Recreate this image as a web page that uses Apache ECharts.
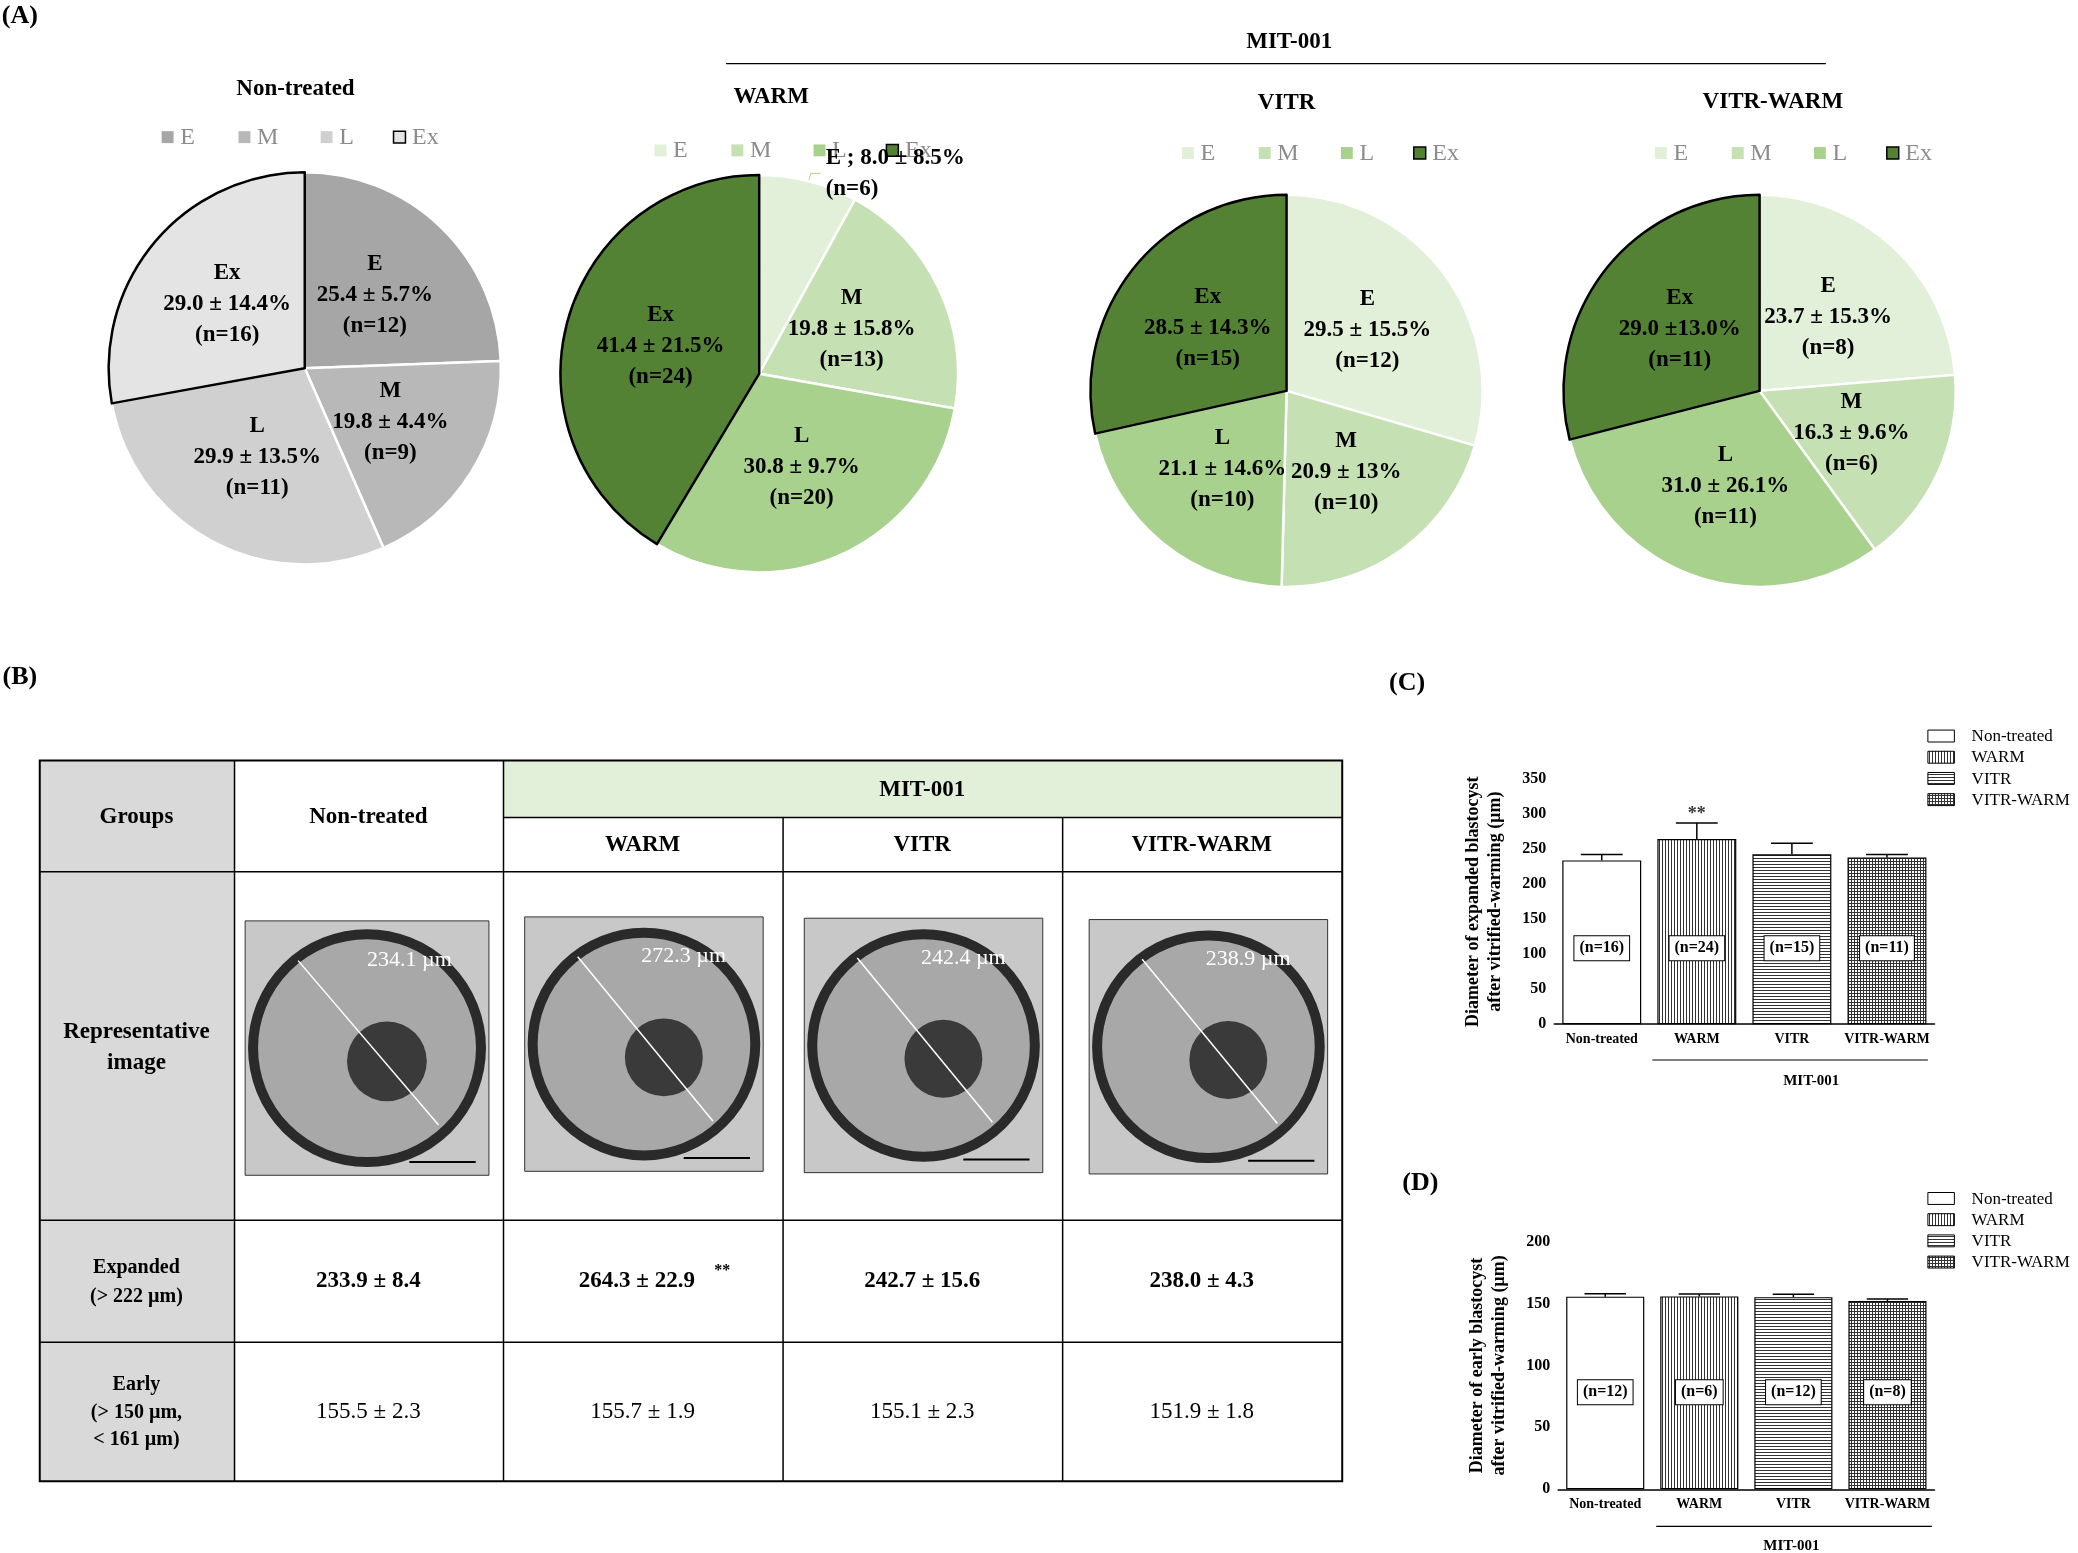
<!DOCTYPE html>
<html><head><meta charset="utf-8">
<script src="https://cdn.jsdelivr.net/npm/echarts@6/dist/echarts.min.js"></script>
<style>html,body{margin:0;background:#fff}#c{width:2078px;height:1553px}</style></head>
<body><div id="c"></div>
<script>
// ---------- data ----------
const pieCats = ['E','M','L','Ex'];
const ntMean = [25.4,19.8,29.9,29.0], ntSd = ['5.7','4.4','13.5','14.4'], ntN = [12,9,11,16];
const wMean = [8.0,19.8,30.8,41.4], wSd = ['8.5','15.8','9.7','21.5'], wN = [6,13,20,24];
const vMean = [29.5,20.9,21.1,28.5], vSd = ['15.5','13','14.6','14.3'], vN = [12,10,10,15];
const vwMean = [23.7,16.3,31.0,29.0], vwSd = ['15.3','9.6','26.1','13.0'], vwN = [8,6,11,11];
const groups = ['Non-treated','WARM','VITR','VITR-WARM'];
const expMean = [233.9,264.3,242.7,238.0], expSd = [8.4,22.9,15.6,4.3], expN = [16,24,15,11];
const earlyMean = [155.5,155.7,155.1,151.9], earlySd = [2.3,1.9,2.3,1.8], earlyN = [12,6,12,8];
const yTicksC = [0,50,100,150,200,250,300,350], yTicksD = [0,50,100,150,200];
const diamTxt = ['234.1 µm','272.3 µm','242.4 µm','238.9 µm'];

const S = 1.325, F = 'Liberation Serif';
const grayCols = ['#a6a6a6','#b8b8b8','#d0d0d0','#e4e4e4'];
const greenCols = ['#e2efd9','#c5e0b3','#a9d18e','#548235'];

function pat(kind){
  const c=document.createElement('canvas');c.width=c.height=6;const g=c.getContext('2d');
  g.fillStyle='#fff';g.fillRect(0,0,6,6);g.fillStyle='#333';
  if(kind==1){g.fillRect(0,0,1,6);g.fillRect(3,0,1,6);}
  if(kind==2){g.fillRect(0,0,6,1);g.fillRect(0,3,6,1);}
  if(kind==3){g.fillRect(0,0,1,6);g.fillRect(3,0,1,6);g.fillRect(0,0,6,1);g.fillRect(0,3,6,1);}
  return c;
}
const fills = [0,1,2,3].map(k=>k==0?'#fff':{image:pat(k),repeat:'repeat'});

function pieSeries(cx,cy,r,mean,sd,n,cols,outsideFirst,sep){
  return {type:'pie',center:[cx*S,cy*S],radius:r*S,startAngle:90,clockwise:true,animation:false,
    data:pieCats.map((c,i)=>({name:c,value:mean[i],
      itemStyle:{color:cols[i],borderColor:i==3?'#000':'#fff',borderWidth:i==3?2.5:2.5},
      label: (outsideFirst&&i==0)?{position:'outside',formatter:`E ; ${mean[i].toFixed(1)} ± ${sd[i]}%\n(n=${n[i]})`,color:'#000',fontSize:23,align:'left'}:
        {position:'inner',formatter:`${c}\n${mean[i].toFixed(1)} ${sep&&sep[i]?sep[i]:'± '}${sd[i]}%\n(n=${n[i]})`},
      labelLine: (outsideFirst&&i==0)?{show:true,length:8,length2:10,lineStyle:{color:'#a9d18e'}}:{show:false}
    })),
    label:{fontFamily:F,fontWeight:'bold',fontSize:23,color:'#000',lineHeight:31},
  };
}
const g=[];
function txt(x,y,t,o){g.push({type:'text',x:x*S,y:y*S,style:Object.assign({text:t,font:`bold ${23}px "${F}"`,fill:'#000',textAlign:'center',textVerticalAlign:'middle'},o||{})});}
function line(x1,y1,x2,y2,w,c){g.push({type:'line',shape:{x1:x1*S,y1:y1*S,x2:x2*S,y2:y2*S},style:{stroke:c||'#000',lineWidth:w||1.5}});}
function rect(x,y,w,h,fill,stroke,lw){g.push({type:'rect',shape:{x:x*S,y:y*S,width:w*S,height:h*S},style:{fill:fill,stroke:stroke||null,lineWidth:lw||1}});}
// panel letters
txt(15,12,'(A)',{font:`bold 26px "${F}"`});txt(15,511,'(B)',{font:`bold 26px "${F}"`});
txt(1062,516,'(C)',{font:`bold 26px "${F}"`});txt(1072,893,'(D)',{font:`bold 26px "${F}"`});
// titles
txt(973,32,'MIT-001');line(548,48,1378,48,1.2);
txt(223,67,'Non-treated');txt(582,73,'WARM');txt(971,78,'VITR');txt(1338,77,'VITR-WARM');
function legend(x,y,cols,exBorder){
  const xs=[0,58,120,175];
  pieCats.forEach((c,i)=>{
    rect(x+xs[i],y-5,9,9,cols[i],i==3?'#000':null,i==3?1.5:0);
    txt(x+xs[i]+14,y,c,{font:`24px "${F}"`,fill:'#8c8c8c',textAlign:'left'});
  });
}
legend(122,104,grayCols);legend(494,114,greenCols);legend(892,116,greenCols);legend(1249,116,greenCols);
// ---- table ----
const cx=[30,177,380,591,802,1013], ry=[574,617,658,921,1013,1118];
rect(30,574,147,544,'#d9d9d9');
rect(380,574,633,43,'#e2efd9');
rect(30,574,983,544,null,'#000',2);
line(177,574,177,1118);line(380,574,380,1118);
line(591,617,591,1118);line(802,617,802,1118);
line(380,617,1013,617);line(30,658,1013,658);line(30,921,1013,921);line(30,1013,1013,1013);
txt(103,617,'Groups');txt(278,617,'Non-treated');txt(696,596,'MIT-001');
txt(485,638,'WARM');txt(696,638,'VITR');txt(907,638,'VITR-WARM');
txt(103,779,'Representative');txt(103,802,'image');
txt(103,957,'Expanded',{font:`bold 20px "${F}"`});txt(103,979,'(> 222 µm)',{font:`bold 20px "${F}"`});
txt(103,1045,'Early',{font:`bold 20px "${F}"`});txt(103,1066,'(> 150 µm,',{font:`bold 20px "${F}"`});txt(103,1087,'< 161 µm)',{font:`bold 20px "${F}"`});
const colC=[278,485,696,907];
expMean.forEach((m,i)=>txt(colC[i],967,`${m.toFixed(1)} ± ${expSd[i].toFixed(1)}`+(i==1?'  ':''),{font:`bold 23px "${F}"`}));
txt(545,959,'**',{font:`bold 16px "${F}"`});
earlyMean.forEach((m,i)=>txt(colC[i],1066,`${m.toFixed(1)} ± ${earlySd[i].toFixed(1)}`,{font:`23px "${F}"`}));
const imgs=[[185,695,184,192],[396,692,180,192],[607,693,180,192],[822,694,180,192]];
imgs.forEach((b,i)=>{
  rect(b[0],b[1],b[2],b[3],'#c8c8c8','#333',1);
  const ccx=b[0]+b[2]/2,ccy=b[1]+b[3]/2,rr=Math.min(b[2],b[3])/2-6;
  g.push({type:'circle',shape:{cx:ccx*S,cy:ccy*S,r:rr*S},style:{fill:'#a8a8a8',stroke:'#2a2a2a',lineWidth:10}});
  g.push({type:'circle',shape:{cx:(ccx+15)*S,cy:(ccy+10)*S,r:rr*0.35*S},style:{fill:'#3a3a3a'}});
  line(b[0]+40,b[1]+30,b[0]+b[2]-38,b[1]+b[3]-38,1.5,'#fff');
  line(b[2]+b[0]-60,b[1]+b[3]-10,b[0]+b[2]-10,b[1]+b[3]-10,2,'#000');
  txt(b[0]+b[2]-60,b[1]+30,diamTxt[i],{font:`22px "${F}"`,fill:'#fff'});
});
// bar legends
function barLegend(x,y){groups.forEach((t,i)=>{rect(x,y+i*16-5,20,9,fills[i],'#000',1);txt(x+33,y+i*16,t,{font:`17px "${F}"`,textAlign:'left'});});}
barLegend(1455,556);barLegend(1455,905);
line(1247,800,1455,800,1.2);txt(1367,816,'MIT-001',{font:`bold 15px "${F}"`});
line(1250,1152,1458,1152,1.2);txt(1352,1167,'MIT-001',{font:`bold 15px "${F}"`});

function barSet(gi,mean,sd,n,labDist){
  return [{type:'bar',xAxisIndex:gi,yAxisIndex:gi,barWidth:'83%',animation:false,
    data:mean.map((v,i)=>({value:v,itemStyle:{color:fills[i],borderColor:'#000',borderWidth:1.2}})),
    label:{show:true,position:'insideBottom',distance:labDist,formatter:p=>`(n=${n[p.dataIndex]})`,fontFamily:F,fontWeight:'bold',fontSize:16,color:'#000',backgroundColor:'#fff',borderColor:'#000',borderWidth:1,padding:[4,5]}},
  {type:'custom',xAxisIndex:gi,yAxisIndex:gi,animation:false,data:mean.map((v,i)=>[i,v,sd[i]]),
    renderItem:(p,api)=>{const hi=api.coord([api.value(0),api.value(1)+api.value(2)]);const lo=api.coord([api.value(0),api.value(1)]);const w=api.size([1,0])[0]*0.22;
      return {type:'group',children:[{type:'line',shape:{x1:hi[0],y1:hi[1],x2:lo[0],y2:lo[1]},style:{stroke:'#000',lineWidth:1.5}},{type:'line',shape:{x1:hi[0]-w,y1:hi[1],x2:hi[0]+w,y2:hi[1]},style:{stroke:'#000',lineWidth:1.5}}]};}}];
}
const ax={axisLine:{lineStyle:{color:'#000',width:1.5}},axisTick:{lineStyle:{color:'#000'}},splitLine:{show:false}};
const yName=t=>({name:t,nameLocation:'middle',nameGap:48,nameRotate:90,nameTextStyle:{fontFamily:F,fontWeight:'bold',fontSize:18,color:'#000',lineHeight:22}});
const opt={animation:false,
 grid:[{left:1173*S,top:588*S,width:287*S,height:185*S},{left:1176*S,top:937*S,width:284*S,height:187*S}],
 xAxis:[0,1].map(i=>Object.assign({type:'category',gridIndex:i,data:groups,axisLabel:{fontFamily:F,fontWeight:'bold',fontSize:14,color:'#000',interval:0},axisTick:{show:false}},{axisLine:ax.axisLine})),
 yAxis:[Object.assign({type:'value',gridIndex:0,min:0,max:350,interval:50,axisLabel:{fontFamily:F,fontWeight:'bold',fontSize:16,color:'#000'}},ax,yName('Diameter of expanded blastocyst\nafter vitrified-warming (µm)')),
        Object.assign({type:'value',gridIndex:1,min:0,max:200,interval:50,axisLabel:{fontFamily:F,fontWeight:'bold',fontSize:16,color:'#000'}},ax,yName('Diameter of early blastocyst\nafter vitrified-warming (µm)'))],
 series:[pieSeries(230,278,148,ntMean,ntSd,ntN,grayCols,false),
   pieSeries(573,282,150,wMean,wSd,wN,greenCols,true),
   pieSeries(971,295,148,vMean,vSd,vN,greenCols,false),
   pieSeries(1328,295,148,vwMean,vwSd,vwN,greenCols,false,['','','','±']),
   ...barSet(0,expMean,expSd,expN,64),...barSet(1,earlyMean,earlySd,earlyN,85),
   {type:'scatter',xAxisIndex:0,yAxisIndex:0,symbolSize:0,data:[[1,300]],label:{show:true,formatter:'**',fontSize:18,fontWeight:'bold',color:'#000',fontFamily:F}}],
 graphic:g};
echarts.init(document.getElementById('c')).setOption(opt);
</script></body></html>
